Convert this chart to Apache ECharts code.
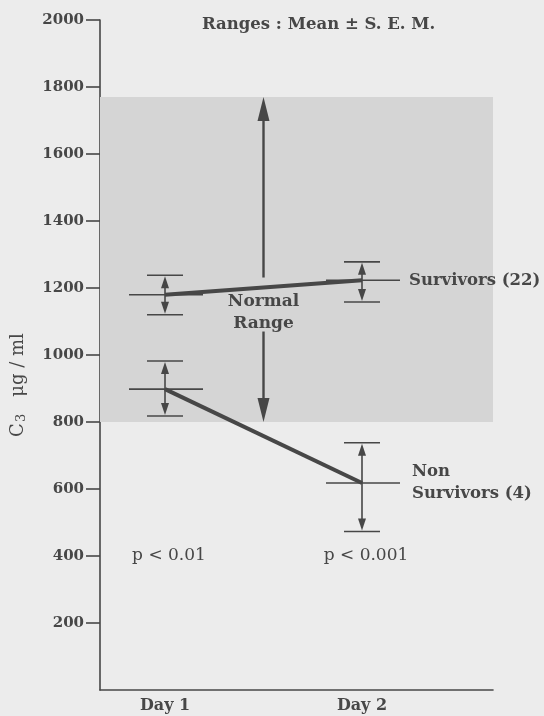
<!DOCTYPE html>
<html>
<head>
<meta charset="utf-8">
<script src="https://cdn.jsdelivr.net/npm/echarts@6/dist/echarts.min.js"></script>
<style>
html,body{margin:0;padding:0;background:#ececec;}
#main{width:544px;height:716px;}
</style>
</head>
<body>
<div id="main"></div>
<script>
// values (C3, ug/ml)
var days = ['Day 1', 'Day 2'];
var dayPos = [1, 2];
var survMean = [1180, 1223];
var survHi = [1238, 1278];
var survLo = [1120, 1158];
var nonMean = [898, 618];
var nonHi = [982, 738];
var nonLo = [818, 473];
var normalRange = [800, 1770];
var pLabels = ['p < 0.01', 'p < 0.001'];
var pLabelY = 400;
var yMin = 0, yMax = 2000, yStep = 200;

var ink = '#474747';
var serif = 'DejaVu Serif';

var myChart = echarts.init(document.getElementById('main'));

function pts(means) {
	var r = [];
	for (var i = 0; i < dayPos.length; i++) r.push([dayPos[i], means[i]]);
	return r;
}
function bars(m, hi, lo) {
	var r = [];
	for (var i = 0; i < dayPos.length; i++) r.push([dayPos[i], m[i], hi[i], lo[i]]);
	return r;
}

function renderErr(params, api) {
	var x = api.value(0);
	var pm = api.coord([x, api.value(1)]);
	var ph = api.coord([x, api.value(2)]);
	var pl = api.coord([x, api.value(3)]);
	var cx = pm[0];
	var st = {stroke: ink, lineWidth: 1.6};
	var fl = {fill: ink};
	return {
		type: 'group',
		children: [
			{type: 'line', shape: {x1: cx - 36, y1: pm[1], x2: cx + 38, y2: pm[1]}, style: st},
			{type: 'line', shape: {x1: cx - 18, y1: ph[1], x2: cx + 18, y2: ph[1]}, style: st},
			{type: 'line', shape: {x1: cx - 18, y1: pl[1], x2: cx + 18, y2: pl[1]}, style: st},
			{type: 'line', shape: {x1: cx, y1: ph[1] + 4, x2: cx, y2: pl[1] - 4}, style: st},
			{type: 'polygon', shape: {points: [[cx, ph[1] + 1], [cx - 4, ph[1] + 13], [cx + 4, ph[1] + 13]]}, style: fl},
			{type: 'polygon', shape: {points: [[cx, pl[1] - 1], [cx - 4, pl[1] - 13], [cx + 4, pl[1] - 13]]}, style: fl}
		]
	};
}

function renderRange(params, api) {
	var x = api.value(0);
	var pb = api.coord([x, api.value(1)]);
	var pt = api.coord([x, api.value(2)]);
	var cx = pb[0];
	var mid = (pb[1] + pt[1]) / 2;
	var st = {stroke: ink, lineWidth: 2.4};
	var fl = {fill: ink};
	return {
		type: 'group',
		children: [
			{type: 'line', shape: {x1: cx, y1: pt[1] + 20, x2: cx, y2: mid + 18}, style: st},
			{type: 'line', shape: {x1: cx, y1: mid + 72, x2: cx, y2: pb[1] - 20}, style: st},
			{type: 'polygon', shape: {points: [[cx, pt[1]], [cx - 6, pt[1] + 24], [cx + 6, pt[1] + 24]]}, style: fl},
			{type: 'polygon', shape: {points: [[cx, pb[1]], [cx - 6, pb[1] - 24], [cx + 6, pb[1] - 24]]}, style: fl},
			{type: 'text', x: cx, y: mid + 53, style: {
				text: 'Normal\nRange', fill: ink, font: 'bold 17px ' + serif,
				align: 'center', verticalAlign: 'middle', lineHeight: 22
			}}
		]
	};
}

function renderText(params, api) {
	var p = api.coord([api.value(0), api.value(1)]);
	var d = textData[params.dataIndex];
	return {
		type: 'text', x: p[0] + d[3], y: p[1],
		style: {
			text: d[2], fill: ink, font: d[4] + ' ' + d[6] + 'px ' + serif,
			align: d[5], verticalAlign: 'middle', lineHeight: 22
		}
	};
}

var textData = [
	[dayPos[1], survMean[1], 'Survivors (22)', 47, 'bold', 'left', 16.5],
	[dayPos[1], nonMean[1], 'Non\nSurvivors (4)', 50, 'bold', 'left', 16.5],
	[dayPos[0], pLabelY, pLabels[0], 4, 'normal', 'center', 17],
	[dayPos[1], pLabelY, pLabels[1], 4, 'normal', 'center', 17]
];

option = {
	backgroundColor: '#ececec',
	animation: false,
	title: {
		text: 'Ranges : Mean \u00b1 S. E. M.',
		left: 202,
		top: 16,
		padding: 0,
		textStyle: {fontFamily: serif, fontSize: 16.5, fontWeight: 'bold', color: ink}
	},
	graphic: [{
		type: 'text',
		x: 18, y: 385,
		rotation: Math.PI / 2,
		style: {
			text: '{c|C}{s|3}{c|   \u03bcg / ml}',
			align: 'center', verticalAlign: 'middle',
			rich: {
				c: {fontFamily: serif, fontSize: 18, fill: ink, color: ink},
				s: {fontFamily: serif, fontSize: 13, fill: ink, color: ink, padding: [8, 0, 0, 1]}
			}
		}
	}],
	grid: {left: 100, right: 51, top: 20, bottom: 26},
	xAxis: {
		type: 'value',
		min: 0.67,
		max: 2.665,
		splitLine: {show: false},
		axisLine: {lineStyle: {color: ink, width: 1.6}},
		axisTick: {show: false},
		axisLabel: {
			customValues: dayPos,
			margin: 8,
			fontFamily: serif, fontSize: 16, fontWeight: 'bold', color: ink,
			formatter: function (v) { return days[dayPos.indexOf(v)] || ''; }
		}
	},
	yAxis: {
		type: 'value',
		min: yMin,
		max: yMax,
		interval: yStep,
		splitLine: {show: false},
		axisLine: {show: true, lineStyle: {color: ink, width: 1.6}},
		axisTick: {show: true, length: 14, lineStyle: {color: ink, width: 1.6},
			customValues: [200, 400, 600, 800, 1000, 1200, 1400, 1600, 1800, 2000]},
		axisLabel: {
			margin: 16,
			fontFamily: serif, fontSize: 15, fontWeight: 'bold', color: ink,
			formatter: function (v) { return v === 0 ? '' : v; }
		}
	},
	series: [
		{
			type: 'line',
			data: [],
			silent: true,
			markArea: {
				silent: true,
				itemStyle: {color: '#d5d5d5'},
				data: [[{xAxis: 0.67, yAxis: normalRange[0]}, {xAxis: 2.665, yAxis: normalRange[1]}]]
			}
		},
		{
			type: 'custom',
			renderItem: renderRange,
			data: [[(dayPos[0] + dayPos[1]) / 2, normalRange[0], normalRange[1]]],
			z: 3
		},
		{
			name: 'Survivors',
			type: 'line',
			data: pts(survMean),
			symbol: 'none',
			lineStyle: {color: ink, width: 4},
			z: 4
		},
		{
			name: 'Non Survivors',
			type: 'line',
			data: pts(nonMean),
			symbol: 'none',
			lineStyle: {color: ink, width: 4},
			z: 4
		},
		{
			type: 'custom',
			renderItem: renderErr,
			data: bars(survMean, survHi, survLo),
			z: 5
		},
		{
			type: 'custom',
			renderItem: renderErr,
			data: bars(nonMean, nonHi, nonLo),
			z: 5
		},
		{
			type: 'custom',
			renderItem: renderText,
			data: textData.map(function (d) { return [d[0], d[1]]; }),
			clip: false,
			z: 6
		}
	]
};
myChart.setOption(option, true);
</script>
</body>
</html>
